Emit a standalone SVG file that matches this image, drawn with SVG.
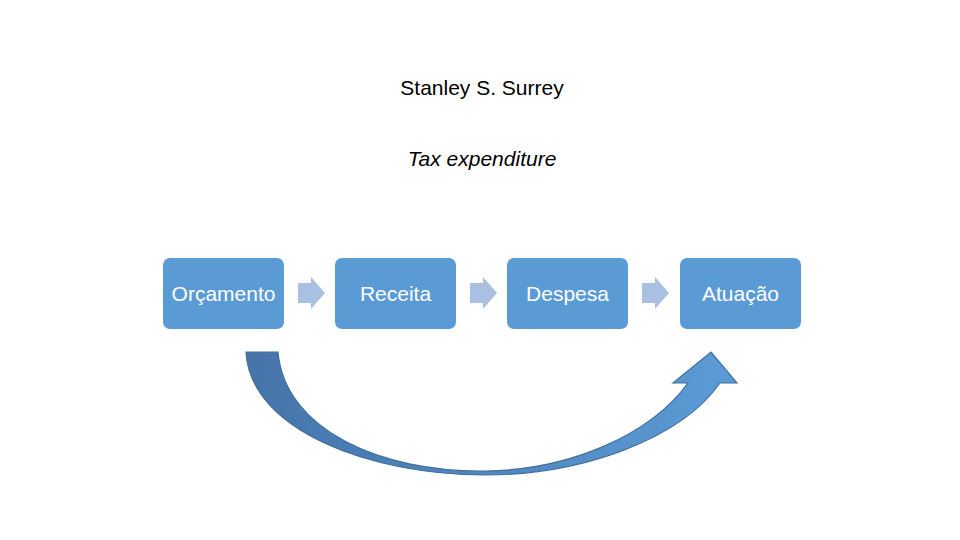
<svg xmlns="http://www.w3.org/2000/svg" width="960" height="540" viewBox="0 0 960 540">
<defs>
<style>
.box{fill:#5b9bd5;}
.lbl{font-family:"Liberation Sans",Arial,sans-serif;font-size:21px;fill:#ffffff;text-anchor:middle;}
.ttl{font-family:"Liberation Sans",Arial,sans-serif;font-size:21px;fill:#000000;text-anchor:middle;}
.sa{fill:#a9c0e3;}
</style>
<linearGradient id="g" x1="246" y1="0" x2="737" y2="0" gradientUnits="userSpaceOnUse">
<stop offset="0" stop-color="#4674aa"/>
<stop offset="1" stop-color="#5b9bd6"/>
</linearGradient>
<path id="sm" d="M0,-10 L13,-10 L13,-16 L27,0 L13,16 L13,10 L0,10 Z"/>
</defs>
<rect width="960" height="540" fill="#ffffff"/>
<text class="ttl" x="482" y="95">Stanley S. Surrey</text>
<text class="ttl" x="482" y="166" font-style="italic" font-size="22">Tax expenditure</text>
<g id="n1"><rect class="box" x="163" y="258" width="121" height="71" rx="7"/><text class="lbl" x="223.5" y="301">Orçamento</text></g>
<g id="n2"><rect class="box" x="335" y="258" width="121" height="71" rx="7"/><text class="lbl" x="395.5" y="301">Receita</text></g>
<g id="n3"><rect class="box" x="507" y="258" width="121" height="71" rx="7"/><text class="lbl" x="567.5" y="301">Despesa</text></g>
<g id="n4"><rect class="box" x="680" y="258" width="121" height="71" rx="7"/><text class="lbl" x="740.5" y="301">Atuação</text></g>
<g id="connectors">
<use href="#sm" class="sa" x="298" y="293"/>
<use href="#sm" class="sa" x="470" y="293"/>
<use href="#sm" class="sa" x="642" y="293"/>
<path d="M246,352 C250,430 370,475 485,475 C580,475 680,440 720,383 L737,383 L711,352 L673,383 L688,383 C650,435 570,470 485,471 C380,472 285,430 278,352 Z" fill="url(#g)" stroke="#41719c" stroke-width="1.2" stroke-linejoin="miter"/>
</g>
</svg>
